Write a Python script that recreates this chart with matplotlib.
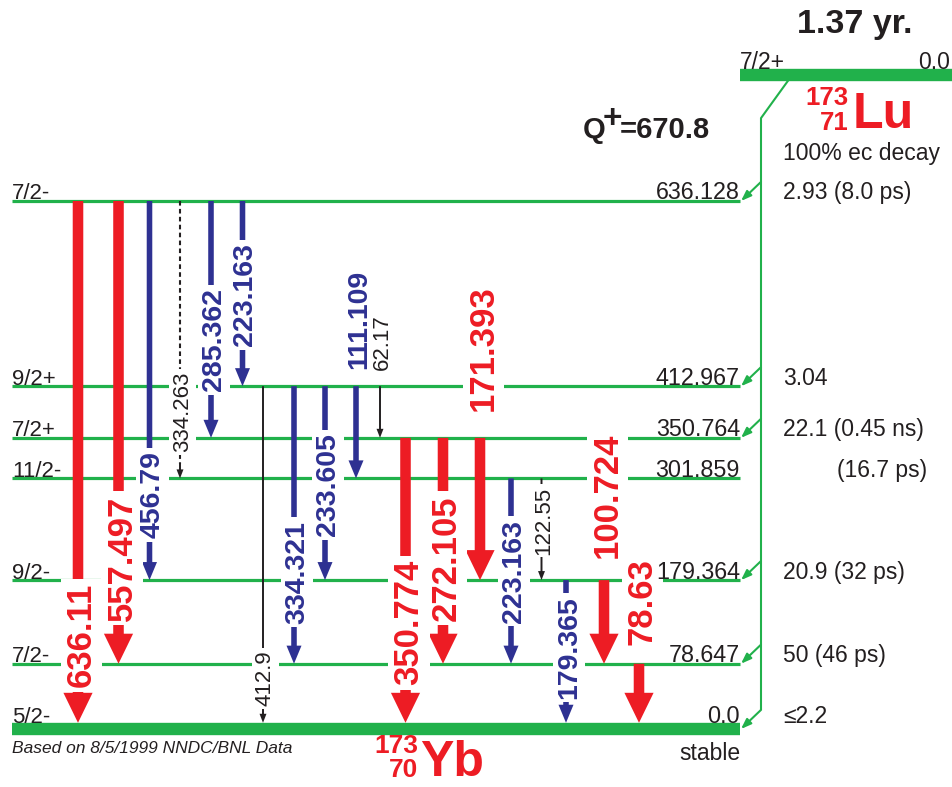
import matplotlib
matplotlib.use('Agg')
import matplotlib.pyplot as plt
from matplotlib.patches import FancyArrowPatch
from matplotlib.transforms import offset_copy

plt.rcParams['font.family'] = ['Liberation Sans', 'DejaVu Sans']

rojo = '#ed1c24'
azul = '#2e3192'
verde = '#21b14b'
negro = '#231f20'

# Niveles de 173Yb (keV)
level_energy = [636.128, 412.967, 350.764, 301.859, 179.364, 78.647, 0.0]
level_spin = ['7/2-', '9/2+', '7/2+', '11/2-', '9/2-', '7/2-', '5/2-']
level_info = ['2.93 (8.0 ps)', '3.04', '22.1 (0.45 ns)', '(16.7 ps)', '20.9 (32 ps)', '50 (46 ps)', '\u22642.2']
level_fed = [True, True, True, False, True, True, True]

# Transiciones gamma (indices de nivel inicial y final)
gamma_label = ['636.11', '557.497', '456.79', '334.263', '285.362', '223.163', '412.9', '334.321',
               '233.605', '111.109', '62.17', '350.774', '272.105', '171.393', '223.163', '122.55',
               '179.365', '100.724', '78.63']
gamma_from = [0, 0, 0, 0, 0, 0, 1, 1, 1, 1, 1, 2, 2, 2, 3, 3, 4, 4, 5]
gamma_to = [6, 5, 4, 3, 2, 1, 6, 5, 4, 3, 2, 6, 5, 4, 5, 4, 6, 5, 6]
gamma_kind = ['fuerte', 'fuerte', 'media', 'punteada', 'media', 'media', 'debil', 'media',
              'media', 'media', 'debil', 'fuerte', 'fuerte', 'fuerte', 'media', 'debil',
              'media', 'fuerte', 'fuerte']

# Posiciones del dibujo (x horizontal, etiquetas en keV)
gamma_x = [78, 118.5, 149.5, 180, 211, 242.5, 263, 294, 325, 356, 380, 405.5, 443, 480, 511,
           541.5, 566, 604, 639]
label_at = [113, 206, 282, 382, 469, 523, 61, 189, 294, 494, 466, 128, 206, 459, 190, 251,
            98, 281, 153]

estilos = {
    'fuerte': dict(color=rojo, tail=7.6, hw=21, hl=21.6, size=25, weight='bold'),
    'media': dict(color=azul, tail=4.0, hw=10.8, hl=13, size=20.5, weight='bold'),
    'debil': dict(color=negro, tail=1.4, hw=5, hl=6.5, size=16, weight='normal'),
    'punteada': dict(color=negro, tail=1.4, hw=5, hl=6.5, size=16, weight='normal'),
}

fig = plt.figure(figsize=(9.53, 7.87), dpi=100)
ax = fig.add_axes([0, 0, 1, 1])
ax.set_xlim(0, 953)
ax.set_ylim(-69.9, 878.3)
ax.axis('off')

lw_nivel = 2.3
lw_base = 8.9
sobre_linea = offset_copy(ax.transData, fig=fig, x=0, y=lw_nivel / 2, units='points')
sobre_base = offset_copy(ax.transData, fig=fig, x=0, y=lw_base / 2, units='points')

# Niveles
for e, spin, info, fed in zip(level_energy, level_spin, level_info, level_fed):
    base = (e == 0.0)
    ax.plot([12, 740], [e, e], color=verde, lw=lw_base if base else lw_nivel,
            solid_capstyle='butt', zorder=2)
    tr = sobre_base if base else sobre_linea
    ax.text(12, e, spin, fontsize=16, color=negro, ha='left', va='baseline', transform=tr)
    ax.text(740, e, str(e), fontsize=16.8, color=negro, ha='right', va='baseline', transform=tr,
            zorder=5)
    if fed:
        ax.text(783, e, info, fontsize=16.5, color=negro, ha='left', va='baseline', transform=tr)
        flecha = FancyArrowPatch((761, e + 23), (741, e), arrowstyle='-|>,head_length=6,head_width=2.2',
                                 mutation_scale=1, lw=1.5, color=verde, shrinkA=0, shrinkB=0, zorder=2)
        ax.add_patch(flecha)
    else:
        ax.text(927, e, info, fontsize=16.5, color=negro, ha='right', va='baseline', transform=tr)

ax.text(740, 0, 'stable', fontsize=16.5, color=negro, ha='right', va='baseline',
        transform=offset_copy(ax.transData, fig=fig, x=0, y=-22, units='points'))

# Nivel padre 173Lu y alimentacion ec
parent_y = 788
ax.plot([740, 953], [parent_y, parent_y], color=verde, lw=lw_base, solid_capstyle='butt', zorder=2)
ax.text(740, parent_y, '7/2+', fontsize=16.5, color=negro, ha='left', va='baseline', transform=sobre_base)
ax.text(950, parent_y, '0.0', fontsize=16.5, color=negro, ha='right', va='baseline', transform=sobre_base)
ax.plot([788, 761, 761], [parent_y - 7, 736, 24], color=verde, lw=1.5, zorder=2)

# Transiciones gamma
for lbl, i, j, kind, x, ly in zip(gamma_label, gamma_from, gamma_to, gamma_kind, gamma_x, label_at):
    st = estilos[kind]
    e1, e2 = level_energy[i], level_energy[j]
    shrink = lw_base / 2 if e2 == 0.0 else 0
    inicio = e1
    if kind == 'punteada':
        ax.plot([x, x], [e1, e2 + 18], color=st['color'], lw=1.5, dashes=(2.2, 1.6), zorder=3)
        inicio = e2 + 18
    estilo = 'simple,head_length=%g,head_width=%g,tail_width=%g' % (st['hl'], st['hw'], st['tail'])
    flecha = FancyArrowPatch((x, inicio), (x, e2), arrowstyle=estilo, mutation_scale=1, lw=0,
                             color=st['color'], shrinkA=0, shrinkB=shrink, zorder=3)
    ax.add_patch(flecha)
    ax.text(x, ly, lbl, rotation=90, rotation_mode='anchor', ha='center', va='center_baseline',
            fontsize=st['size'], fontweight=st['weight'], color=st['color'], zorder=4,
            bbox=dict(boxstyle='square,pad=0.12', fc='white', ec='none'))

# Textos generales
ax.text(797, 838.6, '1.37 yr.', fontsize=24.5, fontweight='bold', color=negro, ha='left', va='baseline')
ax.text(583, 712, 'Q', fontsize=21, fontweight='bold', color=negro, ha='left', va='baseline')
ax.text(603, 724, '+', fontsize=24, fontweight='bold', color=negro, ha='left', va='baseline')
ax.text(620, 712, '=670.8', fontsize=21, fontweight='bold', color=negro, ha='left', va='baseline')

ax.text(853, 724.1, 'Lu', fontsize=36, fontweight='bold', color=rojo, ha='left', va='baseline')
ax.text(849, 751.8, '173', fontsize=18.5, fontweight='bold', color=rojo, ha='right', va='baseline')
ax.text(849, 721.7, '71', fontsize=18.5, fontweight='bold', color=rojo, ha='right', va='baseline')
ax.text(783, 685.5, '100% ec decay', fontsize=16.5, color=negro, ha='left', va='baseline')

ax.text(420, -57, 'Yb', fontsize=36, fontweight='bold', color=rojo, ha='left', va='baseline')
ax.text(418, -29, '173', fontsize=19, fontweight='bold', color=rojo, ha='right', va='baseline')
ax.text(418, -58, '70', fontsize=19, fontweight='bold', color=rojo, ha='right', va='baseline')

ax.text(12, -28.9, 'Based on 8/5/1999 NNDC/BNL Data', fontsize=12.5, style='italic', color=negro,
        ha='left', va='baseline')

plt.savefig('out.png', dpi=100)
